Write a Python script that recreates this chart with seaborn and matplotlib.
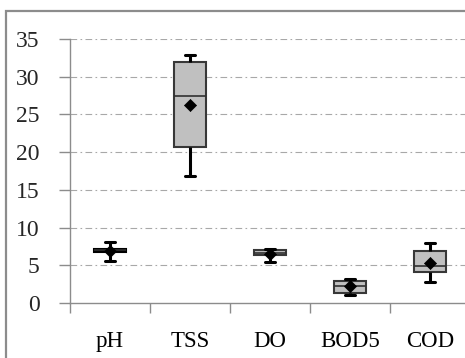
import numpy as np
import pandas as pd
import matplotlib
matplotlib.use("Agg")
import matplotlib.pyplot as plt
from matplotlib.patches import Rectangle
import seaborn as sns

params = ["pH", "TSS", "DO", "BOD5", "COD"]
mins = [5.6, 16.9, 5.4, 1.1, 2.8]
q1s = [6.8, 20.7, 6.3, 1.3, 4.1]
meds = [7.0, 27.5, 6.65, 2.25, 4.9]
q3s = [7.15, 32.0, 7.05, 2.9, 6.9]
maxs = [8.1, 32.9, 7.2, 3.2, 8.0]
means = [6.9, 26.2, 6.5, 2.2, 5.35]
yticks = [0, 5, 10, 15, 20, 25, 30, 35]

rows = []
for p, a, b, c, d, e in zip(params, mins, q1s, meds, q3s, maxs):
    for v in (a, b, c, d, e):
        rows.append({"param": p, "value": v})
df = pd.DataFrame(rows)
df_mean = pd.DataFrame({"param": params, "value": means})

sns.set_theme(style="white")
plt.rcParams["font.family"] = ["Liberation Serif", "DejaVu Serif"]

fig = plt.figure(figsize=(4.65, 3.58), dpi=100)
ax = fig.add_axes([70 / 465, 55 / 358, 400 / 465, 264 / 358])

# outer chart frame (cut off at right and bottom like the reference)
fig.patches.append(Rectangle((6 / 465, -0.1), 1.2, (358 - 11) / 358 + 0.1,
                             transform=fig.transFigure, fill=False,
                             edgecolor="#8c8c8c", linewidth=1.6))

for y in yticks[1:]:
    ax.axhline(y, color="#a8a8a8", linewidth=0.8,
               linestyle=(0, (6, 3, 1.5, 3)), zorder=0)

sns.boxplot(data=df, x="param", y="value", order=params, whis=np.inf,
            width=0.4, ax=ax, color="#c0c0c0", linecolor="#404040",
            linewidth=1.4,
            boxprops=dict(facecolor="#c0c0c0", edgecolor="#383838", linewidth=1.5),
            whiskerprops=dict(color="black", linewidth=2.2),
            capprops=dict(color="black", linewidth=2.2),
            medianprops=dict(color="#303030", linewidth=1.2))

# narrower whisker caps, as in the reference
for ln in ax.lines:
    xd = np.asarray(ln.get_xdata(), dtype=float)
    yd = np.asarray(ln.get_ydata(), dtype=float)
    if len(xd) == 2 and yd[0] == yd[1] and (xd.max() - xd.min()) < 0.35:
        c = xd.mean()
        ln.set_xdata([c - 0.065, c + 0.065])

# pH box appears as a solid black bar
if ax.patches:
    ax.patches[0].set_facecolor("black")
    ax.patches[0].set_edgecolor("black")

sns.scatterplot(data=df_mean, x="param", y="value", marker="D", s=38,
                color="black", edgecolor="black", ax=ax, zorder=5, legend=False)

ax.set_xlim(-0.5, 4.5)
ax.set_ylim(0, 35)
ax.set_yticks(yticks)
ax.set_yticklabels([str(t) for t in yticks], fontsize=17)
ax.set_xticks(range(len(params)))
ax.set_xticklabels(params, fontsize=16.5)
ax.set_xticks(np.arange(-0.5, 5.0, 1.0), minor=True)
ax.tick_params(axis="x", which="major", length=0, pad=20, colors="black")
ax.tick_params(axis="x", which="minor", length=7, width=1, color="#8c8c8c",
               direction="out", bottom=True)
ax.tick_params(axis="y", which="major", length=8, width=1, color="#8c8c8c",
               direction="out", left=True, pad=14)
ax.set_xlabel("")
ax.set_ylabel("")
for s in ("top", "right"):
    ax.spines[s].set_visible(False)
for s in ("left", "bottom"):
    ax.spines[s].set_color("#8c8c8c")
    ax.spines[s].set_linewidth(1.0)

fig.savefig("out.png", dpi=100)
